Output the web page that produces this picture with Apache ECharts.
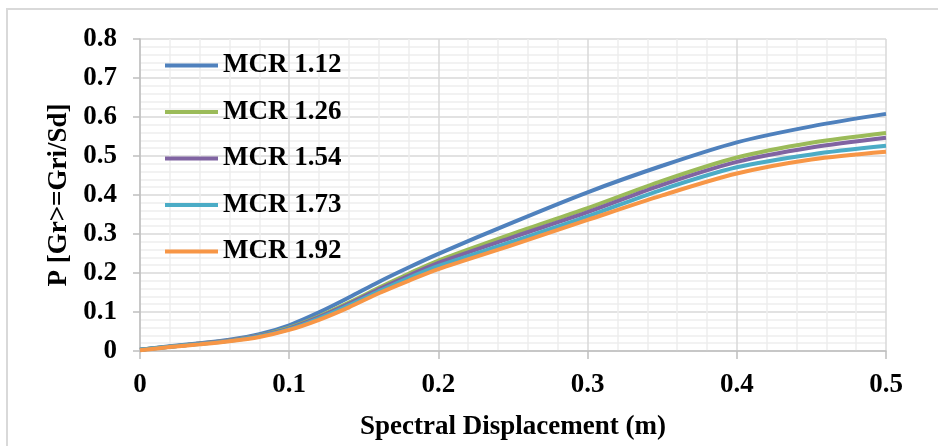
<!DOCTYPE html>
<html>
<head>
<meta charset="utf-8">
<script src="https://cdn.jsdelivr.net/npm/echarts@6/dist/echarts.min.js"></script>
<style>
  html, body { margin: 0; padding: 0; background: #fff; }
  #chart { width: 938px; height: 446px; }
</style>
</head>
<body>
<div id="chart"></div>
<script>
// spectral displacement (m)
const sd = [0, 0.02, 0.04, 0.06, 0.08, 0.1, 0.12, 0.14, 0.16, 0.18, 0.2, 0.25, 0.3, 0.35, 0.4, 0.45, 0.5]

// P [Gr>=Gri/Sd] per MCR
const mcr112 = [0.003, 0.012, 0.020, 0.029, 0.043, 0.066, 0.099, 0.137, 0.177, 0.214, 0.249, 0.330, 0.407, 0.475, 0.535, 0.576, 0.608]
const mcr126 = [0.003, 0.011, 0.019, 0.027, 0.040, 0.060, 0.089, 0.124, 0.162, 0.198, 0.232, 0.301, 0.366, 0.436, 0.496, 0.534, 0.559]
const mcr154 = [0.003, 0.011, 0.019, 0.027, 0.039, 0.058, 0.087, 0.121, 0.158, 0.193, 0.226, 0.292, 0.356, 0.426, 0.485, 0.522, 0.547]
const mcr173 = [0.003, 0.011, 0.018, 0.026, 0.038, 0.056, 0.084, 0.117, 0.153, 0.187, 0.218, 0.281, 0.345, 0.414, 0.471, 0.504, 0.526]
const mcr192 = [0.002, 0.010, 0.017, 0.025, 0.036, 0.054, 0.080, 0.112, 0.148, 0.180, 0.210, 0.272, 0.336, 0.399, 0.455, 0.491, 0.511]

const seriesNames = ['MCR 1.12', 'MCR 1.26', 'MCR 1.54', 'MCR 1.73', 'MCR 1.92']
const seriesValues = [mcr112, mcr126, mcr154, mcr173, mcr192]
const colors = ['#4F81BD', '#9BBB59', '#8064A2', '#4BACC6', '#F79646']

const font = 'Liberation Serif'

const chart = echarts.init(document.getElementById('chart'), null, { renderer: 'canvas' })

const option = {
  animation: false,
  color: colors,
  graphic: [
    {
      type: 'rect',
      shape: { x: 7, y: 9, width: 1000, height: 1000 },
      style: { fill: 'none', stroke: '#D9D9D9', lineWidth: 2 },
      silent: true,
    },
  ],
  grid: { left: 140, right: 52, top: 39, bottom: 92 },
  legend: {
    orient: 'vertical',
    left: 160,
    top: 47,
    icon: 'rect',
    itemWidth: 53,
    itemHeight: 4,
    itemGap: 19.5,
    data: seriesNames,
    textStyle: {
      fontFamily: font,
      fontWeight: 'bold',
      fontSize: 27,
      color: '#000',
      lineHeight: 26,
    },
  },
  xAxis: {
    type: 'value',
    min: 0,
    max: 0.5,
    interval: 0.1,
    name: 'Spectral Displacement (m)',
    nameLocation: 'middle',
    nameGap: 63,
    nameTextStyle: { fontFamily: font, fontWeight: 'bold', fontSize: 27, color: '#000' },
    axisLine: { lineStyle: { color: '#BFBFBF', width: 1.5 } },
    axisTick: { show: true, length: 8, lineStyle: { color: '#BFBFBF', width: 1.5 } },
    axisLabel: { fontFamily: font, fontWeight: 'bold', fontSize: 27, color: '#000', margin: 21 },
    splitLine: { show: true, lineStyle: { color: '#D9D9D9', width: 1.5 } },
    minorTick: { show: false, splitNumber: 5 },
    minorSplitLine: { show: true, lineStyle: { color: '#EEEEEE', width: 1.5 } },
  },
  yAxis: {
    type: 'value',
    min: 0,
    max: 0.8,
    interval: 0.1,
    name: 'P [Gr>=Gri/Sd]',
    nameLocation: 'middle',
    nameGap: 67,
    nameRotate: 90,
    nameTextStyle: { fontFamily: font, fontWeight: 'bold', fontSize: 27, color: '#000' },
    axisLine: { show: true, lineStyle: { color: '#BFBFBF', width: 1.5 } },
    axisTick: { show: true, length: 7, lineStyle: { color: '#BFBFBF', width: 1.5 } },
    axisLabel: {
      fontFamily: font,
      fontWeight: 'bold',
      fontSize: 27,
      color: '#000',
      margin: 23,
      formatter: (v) => (v === 0 ? '0' : v.toFixed(1)),
    },
    splitLine: { show: true, lineStyle: { color: '#D9D9D9', width: 1.5 } },
    minorTick: { show: false, splitNumber: 5 },
    minorSplitLine: { show: true, lineStyle: { color: '#EEEEEE', width: 1.5 } },
  },
  series: seriesNames.map((name, i) => ({
    name,
    type: 'line',
    smooth: 0.3,
    showSymbol: false,
    symbol: 'none',
    lineStyle: { width: 4, color: colors[i] },
    data: sd.map((x, j) => [x, seriesValues[i][j]]),
  })),
}

chart.setOption(option)
</script>
</body>
</html>
